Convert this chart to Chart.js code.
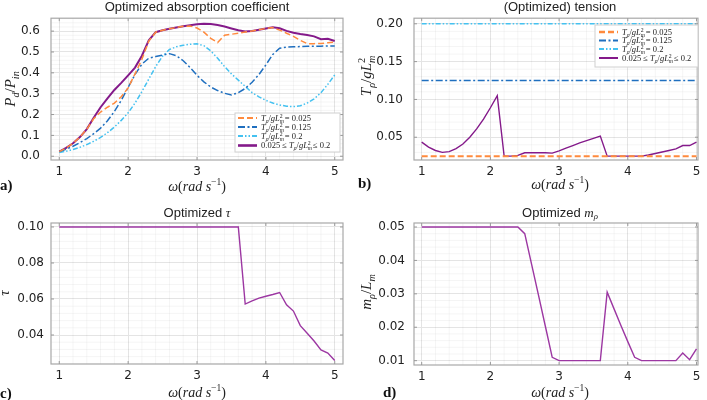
<!DOCTYPE html>
<html>
<head>
<meta charset="utf-8">
<script src="https://cdn.jsdelivr.net/npm/chart.js@4/dist/chart.umd.min.js"></script>
<style>
  body { margin: 0; background: #fff; }
  #wrap { position: relative; width: 707px; height: 400px; }
  canvas { position: absolute; }
</style>
</head>
<body>
<div id="wrap">
  <canvas id="chartA" width="353" height="200" style="left:0;top:0"></canvas>
  <canvas id="chartB" width="354" height="200" style="left:353px;top:0"></canvas>
  <canvas id="chartC" width="353" height="200" style="left:0;top:200px"></canvas>
  <canvas id="chartD" width="354" height="200" style="left:353px;top:200px"></canvas>
</div>
<script>
// frequency grid (rad/s)
const omega = [1.0, 1.1, 1.2, 1.3, 1.4, 1.5, 1.6, 1.7, 1.8, 1.9, 2.0, 2.1, 2.2, 2.3, 2.4, 2.5, 2.6, 2.7, 2.8, 2.9, 3.0,
  3.1, 3.2, 3.3, 3.4, 3.5, 3.6, 3.7, 3.8, 3.9, 4.0, 4.1, 4.2, 4.3, 4.4, 4.5, 4.6, 4.7, 4.8, 4.9, 5.0];

// a) absorption coefficient Pd/Pin
const absorbLow = [0.022, 0.040, 0.062, 0.092, 0.130, 0.180, 0.212, 0.235, 0.255, 0.285, 0.328, 0.395, 0.465, 0.552,
  0.595, 0.604, 0.611, 0.617, 0.623, 0.625, 0.615, 0.595, 0.565, 0.545, 0.580, 0.585, 0.590, 0.596, 0.601, 0.607,
  0.613, 0.617, 0.605, 0.590, 0.575, 0.556, 0.540, 0.540, 0.541, 0.544, 0.547];
const absorbMid = [0.022, 0.034, 0.048, 0.065, 0.085, 0.108, 0.135, 0.170, 0.215, 0.268, 0.330, 0.392, 0.442, 0.470,
  0.478, 0.485, 0.492, 0.482, 0.458, 0.425, 0.388, 0.357, 0.332, 0.315, 0.302, 0.294, 0.305, 0.325, 0.355, 0.392,
  0.438, 0.488, 0.518, 0.523, 0.525, 0.526, 0.527, 0.528, 0.528, 0.529, 0.529];
const absorbHigh = [0.018, 0.024, 0.032, 0.043, 0.056, 0.072, 0.090, 0.113, 0.140, 0.172, 0.208, 0.255, 0.310, 0.370,
  0.430, 0.480, 0.512, 0.525, 0.532, 0.537, 0.539, 0.530, 0.505, 0.470, 0.430, 0.395, 0.365, 0.335, 0.305, 0.285,
  0.268, 0.255, 0.246, 0.240, 0.238, 0.242, 0.255, 0.275, 0.305, 0.345, 0.390];
const absorbOpt = [0.022, 0.040, 0.062, 0.092, 0.130, 0.185, 0.235, 0.278, 0.318, 0.352, 0.388, 0.425, 0.482, 0.556,
  0.595, 0.604, 0.611, 0.617, 0.623, 0.628, 0.633, 0.635, 0.634, 0.629, 0.622, 0.613, 0.604, 0.598, 0.601, 0.607,
  0.613, 0.618, 0.614, 0.601, 0.592, 0.586, 0.581, 0.575, 0.561, 0.563, 0.553];

// b) tension Tρ/gLm²
const tensionFixed = [0.025, 0.125, 0.2];
const tensionOpt = [0.0435, 0.037, 0.0325, 0.030, 0.031, 0.035, 0.041, 0.050, 0.061, 0.074, 0.089, 0.105, 0.025,
  0.025, 0.026, 0.0295, 0.0295, 0.0295, 0.0295, 0.029, 0.032, 0.0355, 0.039, 0.0425, 0.0455, 0.0485, 0.0515, 0.025,
  0.025, 0.025, 0.025, 0.025, 0.025, 0.0265, 0.0285, 0.0305, 0.0325, 0.0345, 0.039, 0.039, 0.0435];

// c) tau
const tauOpt = [0.1, 0.1, 0.1, 0.1, 0.1, 0.1, 0.1, 0.1, 0.1, 0.1, 0.1, 0.1, 0.1, 0.1, 0.1, 0.1, 0.1, 0.1, 0.1, 0.1,
  0.1, 0.1, 0.1, 0.1, 0.1, 0.1, 0.1, 0.0572, 0.059, 0.0605, 0.0615, 0.0625, 0.0636, 0.0568, 0.0533, 0.0452, 0.041,
  0.0367, 0.0317, 0.030, 0.0258];

// d) mass mρ/Lm
const massOpt = [0.05, 0.05, 0.05, 0.05, 0.05, 0.05, 0.05, 0.05, 0.05, 0.05, 0.05, 0.05, 0.05, 0.05, 0.05, 0.048,
  0.0388, 0.0296, 0.0203, 0.011, 0.01, 0.01, 0.01, 0.01, 0.01, 0.01, 0.01, 0.0305, 0.0255, 0.0205, 0.0157, 0.011,
  0.01, 0.01, 0.01, 0.01, 0.01, 0.01, 0.0123, 0.0103, 0.0135];

const xTicks = [1, 2, 3, 4, 5];
const yTicksA = [0.0, 0.1, 0.2, 0.3, 0.4, 0.5, 0.6];
const yTicksB = [0.05, 0.10, 0.15, 0.20];
const yTicksC = [0.04, 0.06, 0.08, 0.10];
const yTicksD = [0.01, 0.02, 0.03, 0.04, 0.05];

const colors = {
  low: "#ff8a3d",
  mid: "#1f6fbf",
  high: "#44c1f0",
  opt: "#841a8a",
  optThin: "#9c37a2",
};

// small helpers for LaTeX-like labels
const I = (t) => ({ t });
const R = (t) => ({ t, r: true });
const S = (t) => ({ t, f: "sans" });
const SB = (t, keep) => ({ t, s: -1, keep });
const SP = (t) => ({ t, s: 1, r: true });

const tensionTokens = [I("T"), SB("ρ"), R("/"), I("gL"), SB("m", true), SP("2")];
const omegaTokens = [I("ω"), R("("), I("rad"), R(" "), I("s"), SP("−1"), R(")")];

function drawMath(ctx, tokens, x, y, size, align, angle) {
  ctx.save();
  ctx.translate(x, y);
  if (angle) ctx.rotate(angle);
  ctx.fillStyle = "#222";
  ctx.textBaseline = "alphabetic";
  ctx.textAlign = "left";
  const fontFor = (tk) => {
    const s = tk.s ? size * 0.68 : size;
    if (tk.f === "sans") return `${s}px "Liberation Sans"`;
    return `${tk.r ? "" : "italic "}${s}px "Liberation Serif"`;
  };
  let w = 0;
  const xs = [];
  tokens.forEach((tk) => {
    ctx.font = fontFor(tk);
    xs.push(w);
    if (!tk.keep) w += ctx.measureText(tk.t).width;
  });
  const x0 = align === "center" ? -w / 2 : align === "right" ? -w : 0;
  tokens.forEach((tk, i) => {
    ctx.font = fontFor(tk);
    const dy = tk.s === -1 ? size * 0.22 : tk.s === 1 ? -size * 0.4 : 0;
    ctx.fillText(tk.t, x0 + xs[i], size * 0.35 + dy);
  });
  ctx.restore();
}

function pts(ys) {
  return omega.map((x, i) => ({ x: x, y: ys[i] }));
}

function line(label, ys, color, width, dash) {
  return {
    label: label,
    data: pts(ys),
    borderColor: color,
    backgroundColor: color,
    borderWidth: width,
    borderDash: dash || [],
    pointRadius: 0,
    tension: 0,
    fill: false,
  };
}

const dashLow = [6, 3];
const dashMid = [7, 2.5, 2, 2.5];
const dashHigh = [5, 2, 1.5, 2, 1.5, 2];

// draws minor grid, frame, titles, math labels and the legend
const decorPlugin = {
  id: "decor",
  beforeDatasetsDraw(chart, args, opts) {
    const { ctx, chartArea: a, scales } = chart;
    ctx.save();
    ctx.strokeStyle = "rgba(0,0,0,0.045)";
    ctx.lineWidth = 1;
    const xs = scales.x, ys = scales.y;
    for (let i = 0; i < xTicks.length + 1; i++) {
      for (let k = 1; k < 5; k++) {
        const v = xTicks[0] - 1 + i + k * 0.2;
        const px = xs.getPixelForValue(v);
        if (px <= a.left || px >= a.right) continue;
        ctx.beginPath(); ctx.moveTo(px, a.top); ctx.lineTo(px, a.bottom); ctx.stroke();
      }
    }
    const yt = opts.yTicks, st = yt[1] - yt[0];
    for (let i = -1; i < yt.length; i++) {
      for (let k = 1; k < 5; k++) {
        const v = yt[0] + i * st + k * st / 5;
        const py = ys.getPixelForValue(v);
        if (py <= a.top || py >= a.bottom) continue;
        ctx.beginPath(); ctx.moveTo(a.left, py); ctx.lineTo(a.right, py); ctx.stroke();
      }
    }
    ctx.restore();
  },
  afterDraw(chart, args, opts) {
    const { ctx, chartArea: a, scales } = chart;
    ctx.save();
    // frame with inner tick marks
    ctx.strokeStyle = "#a8a8a8";
    ctx.lineWidth = 1.2;
    ctx.strokeRect(a.left, a.top, a.right - a.left, a.bottom - a.top);
    ctx.lineWidth = 1;
    ctx.strokeStyle = "#9a9a9a";
    xTicks.forEach((v) => {
      const px = scales.x.getPixelForValue(v);
      ctx.beginPath(); ctx.moveTo(px, a.bottom); ctx.lineTo(px, a.bottom - 3); ctx.stroke();
      ctx.beginPath(); ctx.moveTo(px, a.top); ctx.lineTo(px, a.top + 3); ctx.stroke();
    });
    opts.yTicks.forEach((v) => {
      const py = scales.y.getPixelForValue(v);
      ctx.beginPath(); ctx.moveTo(a.left, py); ctx.lineTo(a.left + 3, py); ctx.stroke();
      ctx.beginPath(); ctx.moveTo(a.right, py); ctx.lineTo(a.right - 3, py); ctx.stroke();
    });
    ctx.restore();

    drawMath(ctx, opts.title, opts.titlePos[0], opts.titlePos[1], 13, "center");
    drawMath(ctx, opts.yTitle, opts.yTitlePos[0], opts.yTitlePos[1], 15, "center", -Math.PI / 2);
    drawMath(ctx, omegaTokens, opts.xTitlePos[0], opts.xTitlePos[1], 14, "center");

    ctx.save();
    ctx.fillStyle = "#111";
    ctx.font = 'bold 15px "Liberation Serif"';
    ctx.textBaseline = "middle";
    ctx.fillText(opts.tag, opts.tagPos[0], opts.tagPos[1]);
    ctx.restore();

    const lg = opts.legend;
    if (lg) {
      ctx.save();
      ctx.fillStyle = "#fff";
      ctx.strokeStyle = "#d0d0d0";
      ctx.lineWidth = 1;
      ctx.fillRect(lg.box[0], lg.box[1], lg.box[2], lg.box[3]);
      ctx.strokeRect(lg.box[0], lg.box[1], lg.box[2], lg.box[3]);
      chart.data.datasets.forEach((ds, i) => {
        const y = lg.rows[i];
        ctx.strokeStyle = ds.borderColor;
        ctx.lineWidth = ds.borderWidth + 0.6;
        ctx.setLineDash(ds.borderDash);
        ctx.beginPath(); ctx.moveTo(lg.x0, y); ctx.lineTo(lg.x0 + 19, y); ctx.stroke();
        ctx.setLineDash([]);
        drawMath(ctx, legendTokens[i], lg.x0 + 23, y, 8.5, "left");
      });
      ctx.restore();
    }
  },
};

const legendTokens = [
  tensionTokens.concat([R(" = 0.025")]),
  tensionTokens.concat([R(" = 0.125")]),
  tensionTokens.concat([R(" = 0.2")]),
  [R("0.025 ≤ ")].concat(tensionTokens, [R(" ≤ 0.2")]),
];

function makePanel(id, p) {
  const canvas = document.getElementById(id);
  const W = canvas.width, H = canvas.height;
  return new Chart(canvas.getContext("2d"), {
    type: "line",
    data: { datasets: p.datasets },
    options: {
      responsive: false,
      animation: false,
      parsing: true,
      layout: { padding: { left: 0, top: p.area.top, right: W - p.area.right, bottom: 0 } },
      plugins: {
        legend: { display: false },
        tooltip: { enabled: false },
        decor: p.decor,
      },
      scales: {
        x: {
          type: "linear",
          min: p.xRange[0],
          max: p.xRange[1],
          afterBuildTicks: (s) => { s.ticks = xTicks.map((v) => ({ value: v })); },
          afterFit: (s) => { s.height = H - p.area.bottom; },
          ticks: { font: { family: "DejaVu Sans", size: 12 }, color: "#222", padding: 5, maxRotation: 0,
            callback: (v) => String(v) },
          grid: { color: "#e4e4e4", drawTicks: false },
          border: { display: false },
        },
        y: {
          type: "linear",
          min: p.yRange[0],
          max: p.yRange[1],
          afterBuildTicks: (s) => { s.ticks = p.decor.yTicks.map((v) => ({ value: v })); },
          afterFit: (s) => { s.width = p.area.left; },
          ticks: { font: { family: "DejaVu Sans", size: 12 }, color: "#222", padding: p.yPad,
            callback: (v) => v.toFixed(p.yDigits) },
          grid: { color: "#e4e4e4", drawTicks: false },
          border: { display: false },
        },
      },
    },
    plugins: [decorPlugin],
  });
}

makePanel("chartA", {
  area: { left: 51, right: 343, top: 15, bottom: 160 },
  xRange: [0.88, 5.12],
  yRange: [-0.018, 0.662],
  yDigits: 1,
  yPad: 11,
  datasets: [
    line("Tρ/gLm² = 0.025", absorbLow, colors.low, 1.5, dashLow),
    line("Tρ/gLm² = 0.125", absorbMid, colors.mid, 1.5, dashMid),
    line("Tρ/gLm² = 0.2", absorbHigh, colors.high, 1.5, dashHigh),
    line("0.025 ≤ Tρ/gLm² ≤ 0.2", absorbOpt, colors.opt, 2),
  ],
  decor: {
    yTicks: yTicksA,
    title: [S("Optimized absorption coefficient")],
    titlePos: [197, 6],
    yTitle: [I("P"), SB("d"), R("/"), I("P"), SB("in")],
    yTitlePos: [10, 89],
    xTitlePos: [197, 186],
    tag: "a)",
    tagPos: [0, 186],
    legend: { box: [235, 113, 105, 39], rows: [118, 127, 136, 145.5], x0: 238 },
  },
});

makePanel("chartB", {
  area: { left: 61, right: 345, top: 15, bottom: 160 },
  xRange: [0.888, 5.022],
  yRange: [0.0199, 0.2074],
  yDigits: 2,
  yPad: 11,
  datasets: [
    line("Tρ/gLm² = 0.025", omega.map(() => tensionFixed[0]), colors.low, 2, dashLow),
    line("Tρ/gLm² = 0.125", omega.map(() => tensionFixed[1]), colors.mid, 1.5, dashMid),
    line("Tρ/gLm² = 0.2", omega.map(() => tensionFixed[2]), colors.high, 1.5, dashHigh),
    line("0.025 ≤ Tρ/gLm² ≤ 0.2", tensionOpt, colors.opt, 1.4),
  ],
  decor: {
    yTicks: yTicksB,
    title: [S("(Optimized) tension")],
    titlePos: [207, 6],
    yTitle: tensionTokens,
    yTitlePos: [13, 77],
    xTitlePos: [207, 184],
    tag: "b)",
    tagPos: [5, 184],
    legend: { box: [242, 25, 103, 42], rows: [32, 40.5, 49, 58], x0: 246 },
  },
});

makePanel("chartC", {
  area: { left: 51, right: 343, top: 23, bottom: 164 },
  xRange: [0.88, 5.12],
  yRange: [0.0239, 0.1022],
  yDigits: 2,
  yPad: 7,
  datasets: [line("τ", tauOpt, colors.optThin, 1.4)],
  decor: {
    yTicks: yTicksC,
    title: [S("Optimized "), I("τ")],
    titlePos: [197, 12],
    yTitle: [I("τ")],
    yTitlePos: [4, 93],
    xTitlePos: [197, 192],
    tag: "c)",
    tagPos: [0, 194],
  },
});

makePanel("chartD", {
  area: { left: 61, right: 345, top: 23, bottom: 165 },
  xRange: [0.888, 5.022],
  yRange: [0.0087, 0.0512],
  yDigits: 2,
  yPad: 9,
  datasets: [line("mρ/Lm", massOpt, colors.optThin, 1.4)],
  decor: {
    yTicks: yTicksD,
    title: [S("Optimized "), I("m"), SB("ρ")],
    titlePos: [207, 12],
    yTitle: [I("m"), SB("ρ"), R("/"), I("L"), SB("m")],
    yTitlePos: [13, 92],
    xTitlePos: [207, 192],
    tag: "d)",
    tagPos: [30, 193],
  },
});
</script>
</body>
</html>
